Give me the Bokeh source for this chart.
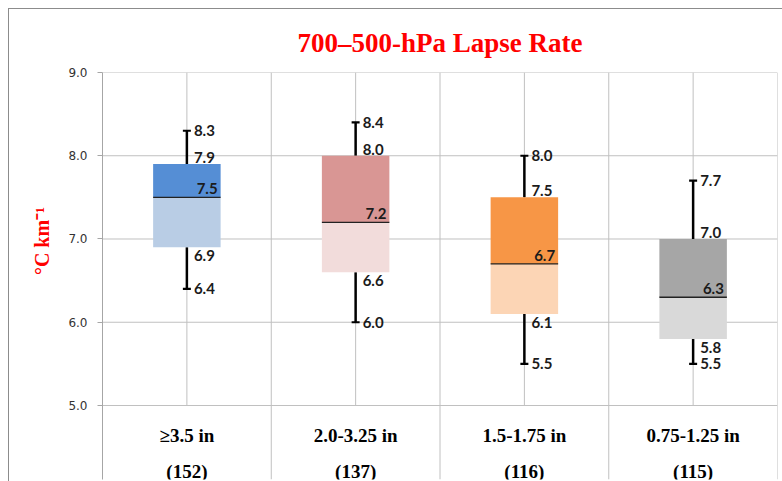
from bokeh.plotting import figure
from bokeh.models import Range1d, FixedTicker, NumeralTickFormatter, ColumnDataSource, Title
from bokeh.core.properties import value
from bokeh.embed import file_html
from bokeh.resources import INLINE

# ---------------- data ----------------
categories = ["≥3.5 in", "2.0-3.25 in", "1.5-1.75 in", "0.75-1.25 in"]
counts = ["(152)", "(137)", "(116)", "(115)"]
whisker_low = [6.4, 6.0, 5.5, 5.5]
quartile_1 = [6.9, 6.6, 6.1, 5.8]
medians = [7.5, 7.2, 6.7, 6.3]
quartile_3 = [7.9, 8.0, 7.5, 7.0]
whisker_high = [8.3, 8.4, 8.0, 7.7]
y_ticks = [5.0, 6.0, 7.0, 8.0, 9.0]

upper_colors = ["#558ED5", "#D99694", "#F79646", "#A6A6A6"]
lower_colors = ["#B9CDE5", "#F2DCDB", "#FCD5B5", "#D9D9D9"]

# ---------------- layout constants ----------------
W, H = 782, 481
BOX_W = 0.4
Y_START = 4.111
GRID = "#C0C0C0"
SERIF = value("Liberation Serif")
LBL_FONT = value("Lato")
BORDER = "#8C8C8C"
PAD = "\u00a0" * 14   # shifts the rotated axis label up to the 5-9 band centre

n = len(categories)
centers = [i + 0.5 for i in range(n)]

p = figure(width=W, height=H, output_backend="svg", toolbar_location=None,
           x_range=Range1d(0, n), y_range=Range1d(Y_START, y_ticks[-1]),
           x_axis_location=None,
           min_border_left=102, min_border_right=5, min_border_top=72, min_border_bottom=2)
p.outline_line_color = None
p.xgrid.visible = False
p.ygrid.visible = False
p.border_fill_alpha = 0
p.background_fill_color = "white"
p.styles = {
    "background": (f"linear-gradient({BORDER},{BORDER}) 8px 8px / 774px 1px no-repeat, "
                   f"linear-gradient({BORDER},{BORDER}) 8px 8px / 1px 473px no-repeat, white")
}

# title
p.add_layout(Title(text="700\u2013500-hPa Lapse Rate", align="center", offset=3,
                   standoff=30, text_line_height=0.9, text_font="Liberation Serif",
                   text_font_style="bold", text_font_size="27px", text_color="#FF0000"),
             "above")

# y axis
ax = p.yaxis[0]
ax.ticker = FixedTicker(ticks=y_ticks, minor_ticks=[])
ax.formatter = NumeralTickFormatter(format="0.0")
ax.axis_line_color = "#A6A6A6"
ax.major_tick_line_color = "#A6A6A6"
ax.major_tick_out = 5
ax.major_tick_in = 0
ax.minor_tick_line_color = None
ax.major_label_standoff = 10
ax.major_label_text_font = "DejaVu Sans"
ax.major_label_text_font_size = "12px"
ax.major_label_text_color = "#333333"
ax.axis_label = PAD + "\u00b0C km\u207b\u00b9"
ax.axis_label_text_font = "Liberation Serif"
ax.axis_label_text_font_style = "bold"
ax.axis_label_text_font_size = "20px"
ax.axis_label_text_color = "#FF0000"
ax.axis_label_standoff = 12

# grid lines
hx0 = [0] * len(y_ticks)
hx1 = [n] * len(y_ticks)
p.segment(x0=hx0, y0=y_ticks, x1=hx1, y1=y_ticks, line_color=GRID, line_width=1)
vx, vy0 = [], []
for k in range(1, 2 * n + 1):
    vx.append(k * 0.5)
    vy0.append(y_ticks[0] if k % 2 == 1 else Y_START)
p.segment(x0=vx, y0=vy0, x1=vx, y1=[y_ticks[-1]] * len(vx), line_color=GRID, line_width=1)

# boxes
src = ColumnDataSource(dict(x=centers, lo=whisker_low, q1=quartile_1, med=medians,
                            q3=quartile_3, hi=whisker_high,
                            up=upper_colors, low=lower_colors,
                            xl=[c - BOX_W / 2 for c in centers],
                            xr=[c + BOX_W / 2 for c in centers],
                            tlo=[f"{v:.1f}" for v in whisker_low],
                            tq1=[f"{v:.1f}" for v in quartile_1],
                            tmed=[f"{v:.1f}" for v in medians],
                            tq3=[f"{v:.1f}" for v in quartile_3],
                            thi=[f"{v:.1f}" for v in whisker_high],
                            cat=categories, cnt=counts,
                            base=[y_ticks[0]] * n))

p.segment(x0="x", y0="q3", x1="x", y1="hi", source=src, line_color="black", line_width=2.5)
p.segment(x0="x", y0="lo", x1="x", y1="q1", source=src, line_color="black", line_width=2.5)
p.scatter(x="x", y="hi", source=src, marker="dash", size=8, line_color="black", line_width=2.2)
p.scatter(x="x", y="lo", source=src, marker="dash", size=8, line_color="black", line_width=2.2)

p.vbar(x="x", width=BOX_W, bottom="med", top="q3", source=src, fill_color="up", line_color=None)
p.vbar(x="x", width=BOX_W, bottom="q1", top="med", source=src, fill_color="low", line_color=None)
p.segment(x0="xl", y0="med", x1="xr", y1="med", source=src, line_color="#222222", line_width=1.3)

# value labels
common = dict(source=src, text_font=LBL_FONT, text_font_style="bold",
              text_font_size="15px", text_color="#1B1B1B")
p.text(x="x", y="hi", text="thi", x_offset=7, text_baseline="middle", **common)
p.text(x="x", y="q3", text="tq3", x_offset=7, y_offset=-1, text_baseline="bottom", **common)
p.text(x="xr", y="med", text="tmed", x_offset=-3, y_offset=-3, text_align="right",
       text_baseline="bottom", **common)
p.text(x="x", y="q1", text="tq1", x_offset=7, y_offset=3, text_baseline="top", **common)
p.text(x="x", y="lo", text="tlo", x_offset=7, text_baseline="middle", **common)

# category labels
cat_style = dict(source=src, text_align="center", text_baseline="alphabetic",
                 text_font=SERIF, text_font_style="bold", text_font_size="19px",
                 text_color="black")
p.text(x="x", y="base", text="cat", y_offset=30, **cat_style)
p.text(x="x", y="base", text="cnt", y_offset=66, **cat_style)

open("out.html", "w").write(file_html(p, INLINE))
